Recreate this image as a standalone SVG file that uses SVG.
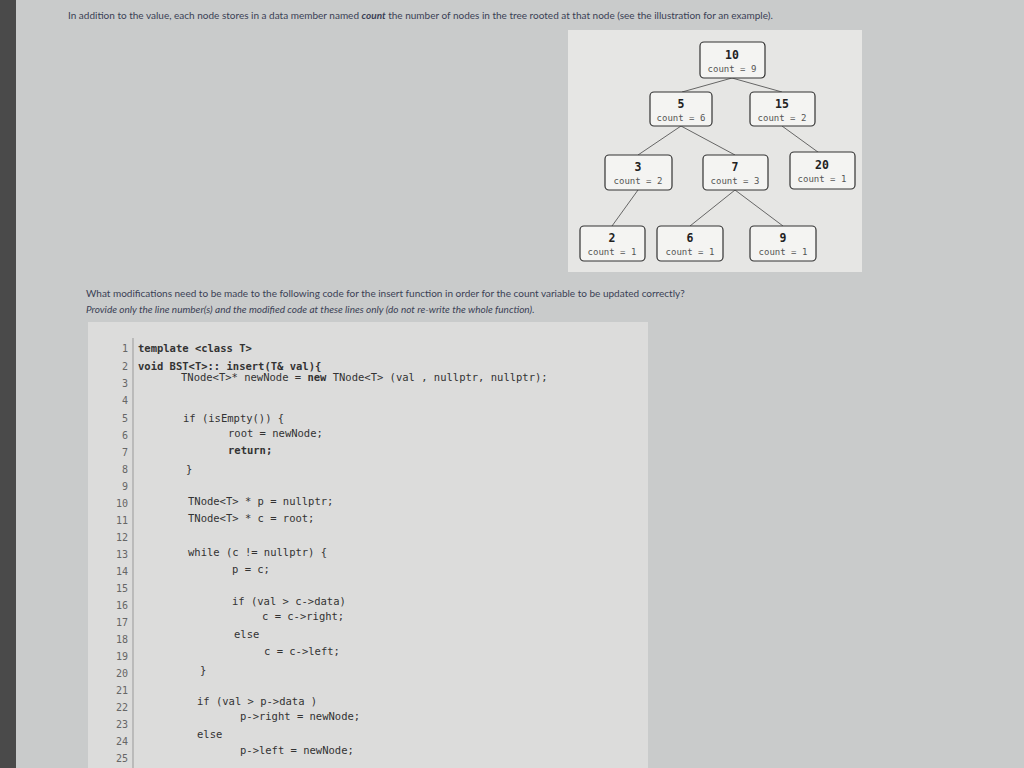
<svg xmlns="http://www.w3.org/2000/svg" width="1024" height="768" viewBox="0 0 1024 768">
<style>
.t{font-family:"Lato","Liberation Sans",sans-serif;font-size:10px;fill:#3a3f55}
.i{font-style:italic}
.n rect{fill:#f4f4f2;stroke:#333;stroke-width:1.2}
.v{font-family:"DejaVu Sans Mono",monospace;font-size:11.5px;font-weight:bold;fill:#222;text-anchor:middle}
.c{font-family:"DejaVu Sans Mono",monospace;font-size:9px;fill:#555;text-anchor:middle}
.ln{font-family:"DejaVu Sans Mono",monospace;font-size:10px;fill:#666;text-anchor:end}
.cd{font-family:"DejaVu Sans Mono",monospace;font-size:10.5px;fill:#333}
.e line{stroke:#666;stroke-width:1}
</style>
<rect width="1024" height="768" fill="#c9cbcb"/>
<rect x="0" y="0" width="16" height="768" fill="#4a4a4a"/>
<text class="t" x="68" y="19">In addition to the value, each node stores in a data member named <tspan class="i" font-weight="bold">count</tspan> the number of nodes in the tree rooted at that node (see the illustration for an example).</text>
<rect x="568" y="30" width="294" height="242" fill="#e6e6e4"/>
<g class="e">
<line x1="732" y1="78" x2="682" y2="92"/><line x1="732" y1="78" x2="782" y2="92"/>
<line x1="681" y1="126" x2="638" y2="155"/><line x1="681" y1="126" x2="735" y2="155"/>
<line x1="782" y1="126" x2="822" y2="155"/>
<line x1="638" y1="190" x2="612" y2="226"/><line x1="735" y1="190" x2="690" y2="226"/><line x1="735" y1="190" x2="783" y2="226"/>
</g>
<g id="n10" class="n"><rect x="700" y="42" width="65" height="36" rx="4"/><text class="v" x="732" y="59">10</text><text class="c" x="732" y="72">count = 9</text></g>
<g id="n5" class="n"><rect x="650" y="92" width="62" height="34" rx="4"/><text class="v" x="681" y="108">5</text><text class="c" x="681" y="121">count = 6</text></g>
<g id="n15" class="n"><rect x="750" y="92" width="65" height="34" rx="4"/><text class="v" x="782" y="108">15</text><text class="c" x="782" y="121">count = 2</text></g>
<g id="n3" class="n"><rect x="605" y="155" width="67" height="35" rx="4"/><text class="v" x="638" y="171">3</text><text class="c" x="638" y="184">count = 2</text></g>
<g id="n7" class="n"><rect x="703" y="155" width="65" height="35" rx="4"/><text class="v" x="735" y="171">7</text><text class="c" x="735" y="184">count = 3</text></g>
<g id="n20" class="n"><rect x="790" y="152" width="65" height="37" rx="4"/><text class="v" x="822" y="169">20</text><text class="c" x="822" y="182">count = 1</text></g>
<g id="n2" class="n"><rect x="580" y="226" width="65" height="35" rx="4"/><text class="v" x="612" y="242">2</text><text class="c" x="612" y="255">count = 1</text></g>
<g id="n6" class="n"><rect x="657" y="226" width="66" height="35" rx="4"/><text class="v" x="690" y="242">6</text><text class="c" x="690" y="255">count = 1</text></g>
<g id="n9" class="n"><rect x="750" y="226" width="66" height="35" rx="4"/><text class="v" x="783" y="242">9</text><text class="c" x="783" y="255">count = 1</text></g>
<text class="t" x="86" y="297">What modifications need to be made to the following code for the insert function in order for the count variable to be updated correctly?</text>
<text class="t i" x="86" y="313">Provide only the line number(s) and the modified code at these lines only (do not re-write the whole function).</text>
<rect x="88" y="322" width="560" height="446" fill="#dcdcdb"/>
<line x1="133" y1="338" x2="133" y2="768" stroke="#999"/>
<g class="ln">
<text x="128" y="352">1</text><text x="128" y="370">2</text><text x="128" y="387">3</text><text x="128" y="404">4</text><text x="128" y="422">5</text><text x="128" y="439">6</text><text x="128" y="456">7</text><text x="128" y="473">8</text><text x="128" y="490">9</text><text x="128" y="507">10</text><text x="128" y="524">11</text><text x="128" y="541">12</text><text x="128" y="558">13</text><text x="128" y="575">14</text><text x="128" y="592">15</text><text x="128" y="609">16</text><text x="128" y="626">17</text><text x="128" y="643">18</text><text x="128" y="660">19</text><text x="128" y="677">20</text><text x="128" y="694">21</text><text x="128" y="711">22</text><text x="128" y="728">23</text><text x="128" y="745">24</text><text x="128" y="762">25</text>
</g>
<g class="cd">
<text x="138" y="352" font-weight="bold">template &lt;class T&gt;</text>
<text x="138" y="370" font-weight="bold">void BST&lt;T&gt;:: insert(T&amp; val){</text>
<text x="181" y="381">TNode&lt;T&gt;* newNode = <tspan font-weight="bold">new</tspan> TNode&lt;T&gt; (val , nullptr, nullptr);</text>
<text x="183" y="422">if (isEmpty()) {</text>
<text x="228" y="437">root = newNode;</text>
<text x="228" y="454" font-weight="bold">return;</text>
<text x="186" y="473">}</text>
<text x="188" y="505">TNode&lt;T&gt; * p = nullptr;</text>
<text x="188" y="522">TNode&lt;T&gt; * c = root;</text>
<text x="188" y="556">while (c != nullptr) {</text>
<text x="232" y="573">p = c;</text>
<text x="232" y="605">if (val &gt; c-&gt;data)</text>
<text x="262" y="620">c = c-&gt;right;</text>
<text x="234" y="638">else</text>
<text x="264" y="655">c = c-&gt;left;</text>
<text x="200" y="674">}</text>
<text x="197" y="705">if (val &gt; p-&gt;data )</text>
<text x="240" y="720">p-&gt;right = newNode;</text>
<text x="197" y="738">else</text>
<text x="240" y="754">p-&gt;left = newNode;</text>
</g>
</svg>
